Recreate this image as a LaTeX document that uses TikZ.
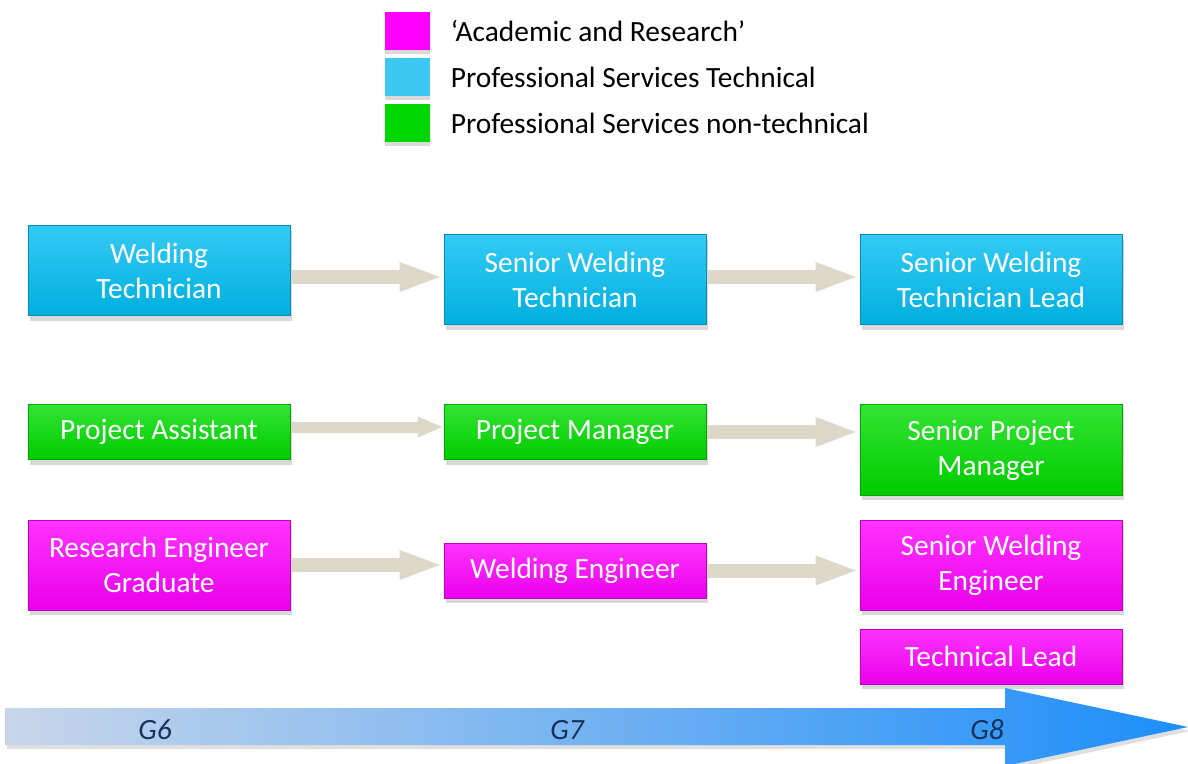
\documentclass[tikz,border=0pt]{standalone}
\usepackage{fontspec}
\setmainfont{Carlito}
\usetikzlibrary{positioning, arrows.meta, shadows}
\definecolor{acad}{RGB}{255,0,255}
\definecolor{tech}{RGB}{0,190,242}
\definecolor{nontech}{RGB}{0,221,0}
\definecolor{legtech}{RGB}{60,200,240}
\definecolor{legnontech}{RGB}{0,214,0}
\definecolor{flowcol}{RGB}{222,216,200}
\definecolor{gradecol}{RGB}{22,50,90}
\definecolor{scaleleft}{RGB}{200,214,234}
\definecolor{scaleright}{RGB}{28,142,250}

\begin{document}
\begin{tikzpicture}[x=0.5pt, y=-0.5pt, node distance=76.5pt,
	post/.style={draw=#1!75!black, line width=0.5pt, top color=#1!80!white, middle color=#1, bottom color=#1!92!black, text=white, align=center, minimum width=131pt, minimum height=27.5pt, inner sep=1pt, font=\fontsize{14.7}{17.5}\selectfont, drop shadow={shadow xshift=1pt, shadow yshift=-2.5pt, opacity=.3}},
	tall/.style={minimum height=45pt},
	legbox/.style={fill=#1, minimum width=22.5pt, minimum height=19pt, inner sep=0pt, drop shadow={shadow xshift=0pt, shadow yshift=-2pt, opacity=.3}},
	legtext/.style={right=10pt of #1, font=\fontsize{14.7}{17}\selectfont, inner sep=0pt},
	flow/.style={flowcol, line width=7pt, -{Triangle[length=22pt,width=13pt]}},
	smallflow/.style={flowcol, line width=5.5pt, -{Triangle[length=13pt,width=9.5pt]}},
	grade/.style={text=gradecol, font=\fontsize{14.7}{17}\selectfont\itshape}]
	\useasboundingbox (0,0) rectangle (1188,764);
	\node[legbox=acad] (leg_a) at (407.5,31) {};
	\node[legbox=legtech] (leg_t) at (407.5,77) {};
	\node[legbox=legnontech] (leg_n) at (407.5,123) {};
	\node[legtext=leg_a] {`Academic and Research'};
	\node[legtext=leg_t] {Professional Services Technical};
	\node[legtext=leg_n] {Professional Services non-technical};

	\node[post=tech, tall] (wt) at (159,271) {Welding\\Technician};
	\node[post=tech, tall, right=of wt, yshift=-4.5pt] (swt) {Senior Welding\\Technician};
	\node[post=tech, tall, right=of swt] (swtl) {Senior Welding\\Technician Lead};

	\node[post=nontech] (pa) at (159,432) {Project Assistant};
	\node[post=nontech, right=of pa] (pm) {Project Manager};
	\node[post=nontech, tall, right=of pm, yshift=-9pt] (spm) {Senior Project\\Manager};

	\node[post=acad, tall] (reg) at (159,565) {Research Engineer\\Graduate};
	\node[post=acad, right=of reg, yshift=-2.75pt] (we) {Welding Engineer};
	\node[post=acad, tall, right=of we, yshift=2.75pt] (swe) {Senior Welding\\Engineer};
	\node[post=acad, below=9pt of swe] (tl) {Technical Lead};

	\draw[flow] ([yshift=-3pt]wt.east) -- ([yshift=-3pt]wt.east -| swt.west);
	\draw[flow] ([yshift=1.5pt]swt.east) -- ([yshift=1.5pt]swt.east -| swtl.west);
	\draw[smallflow] ([yshift=2.5pt]pa.east) -- ([yshift=2.5pt]pa.east -| pm.west);
	\draw[flow] (pm.east) -- (pm.east -| spm.west);
	\draw[flow] (reg.east) -- (reg.east -| we.west);
	\draw[flow] (we.east) -- (we.east -| swe.west);

	\shade[left color=scaleleft, right color=scaleright, drop shadow={shadow xshift=1pt, shadow yshift=-2pt, opacity=.25}]
	(5,708) -- (1005,708) -- (1005,688) -- (1188,727) -- (1005,766) -- (1005,745) -- (5,745) -- cycle;
	\node[grade] (g6) at (155,730) {G6};
	\node[grade] (g7) at (567,730) {G7};
	\node[grade] (g8) at (987,730) {G8};
\end{tikzpicture}
\end{document}
